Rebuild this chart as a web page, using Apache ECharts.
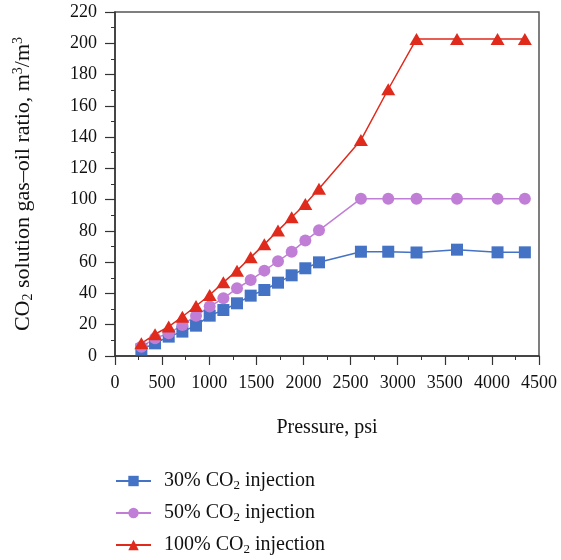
<!DOCTYPE html>
<html><head><meta charset="utf-8">
<script src="https://cdn.jsdelivr.net/npm/echarts@6/dist/echarts.min.js"></script>
<style>html,body{margin:0;padding:0;background:#fff}#c{width:561px;height:560px}</style>
</head><body><div id="c"></div>
<script>
const pressure = [280,425,570,715,860,1005,1150,1295,1440,1585,1730,1875,2020,2165,2610,2900,3200,3630,4060,4350];
const co2_30 = [4.3,8.1,12.4,15.6,19.4,25.8,29.4,33.7,38.6,42.2,46.9,51.6,56.1,59.9,66.7,66.7,66.2,68.0,66.3,66.3];
const co2_50 = [5.9,11.3,14.5,19.8,25.8,31.6,36.9,43.3,48.6,54.6,60.6,66.7,73.8,80.4,100.6,100.6,100.6,100.6,100.6,100.6];
const co2_100 = [8.1,13.9,18.8,25.1,32.0,39.0,47.1,54.6,63.1,71.4,80.2,88.7,97.2,107.0,138.1,170.6,202.8,202.8,202.8,202.8];
const seriesNames = ['30% CO2 injection','50% CO2 injection','100% CO2 injection'];
const legendLabels = {
  '30% CO2 injection':'30% CO{sub|2} injection',
  '50% CO2 injection':'50% CO{sub|2} injection',
  '100% CO2 injection':'100% CO{sub|2} injection'
};
const font = 'Liberation Serif';
const pair = (ys) => pressure.map((p,i)=>[p, ys[i]]);
const chart = echarts.init(document.getElementById('c'));
chart.setOption({
  animation:false,
  textStyle:{fontFamily:font},
  grid:{left:115,right:22,top:12,bottom:204,show:true,borderColor:'#555',borderWidth:1.5},
  xAxis:{type:'value',min:0,max:4500,interval:500,
    name:'Pressure, psi',nameLocation:'middle',nameGap:62,
    nameTextStyle:{fontFamily:font,fontSize:20,color:'#111'},
    axisLine:{show:true,lineStyle:{color:'#333',width:1.5}},
    axisTick:{show:true,length:9,lineStyle:{color:'#333',width:1.2}},
    minorTick:{show:true,splitNumber:2,length:4,lineStyle:{color:'#333',width:1}},
    axisLabel:{fontFamily:font,fontSize:18,color:'#111',margin:18,formatter:(v)=>String(v)},
    splitLine:{show:false}},
  yAxis:{type:'value',min:0,max:220,interval:20,
    name:'CO{sub|2} solution gas\u2013oil ratio, m{sup|3}/m{sup|3}',nameLocation:'middle',nameGap:80,nameRotate:90,
    nameTextStyle:{fontFamily:font,fontSize:22,color:'#111',
      rich:{sub:{fontFamily:font,fontSize:14,color:'#111',padding:[10,0,0,0]},
            sup:{fontFamily:font,fontSize:14,color:'#111',padding:[0,0,10,0]}}},
    axisLine:{show:true,lineStyle:{color:'#333',width:1.5}},
    axisTick:{show:true,length:10,lineStyle:{color:'#333',width:1.2}},
    minorTick:{show:true,splitNumber:2,length:4,lineStyle:{color:'#333',width:1}},
    axisLabel:{fontFamily:font,fontSize:18,color:'#111',margin:18},
    splitLine:{show:false}},
  legend:{orient:'vertical',left:115,top:470,padding:0,height:90,itemWidth:35,itemHeight:13,itemGap:10,
    data:seriesNames,
    formatter:(n)=>legendLabels[n],
    textStyle:{fontFamily:font,fontSize:20,color:'#111',lineHeight:20,padding:[0,0,0,8],
      rich:{sub:{fontFamily:font,fontSize:13,color:'#111',lineHeight:20,padding:[9,0,0,0]}}}},
  series:[
    {name:seriesNames[0],type:'line',data:pair(co2_30),symbol:'rect',symbolSize:12,
     itemStyle:{color:'#4472C4'},lineStyle:{color:'#4472C4',width:1.5}},
    {name:seriesNames[1],type:'line',data:pair(co2_50),symbol:'circle',symbolSize:12,
     itemStyle:{color:'#C07ED6'},lineStyle:{color:'#C07ED6',width:1.5}},
    {name:seriesNames[2],type:'line',data:pair(co2_100),symbol:'triangle',symbolSize:[14,12],
     itemStyle:{color:'#E02A1C'},lineStyle:{color:'#E02A1C',width:1.5}}
  ]
});
</script></body></html>
